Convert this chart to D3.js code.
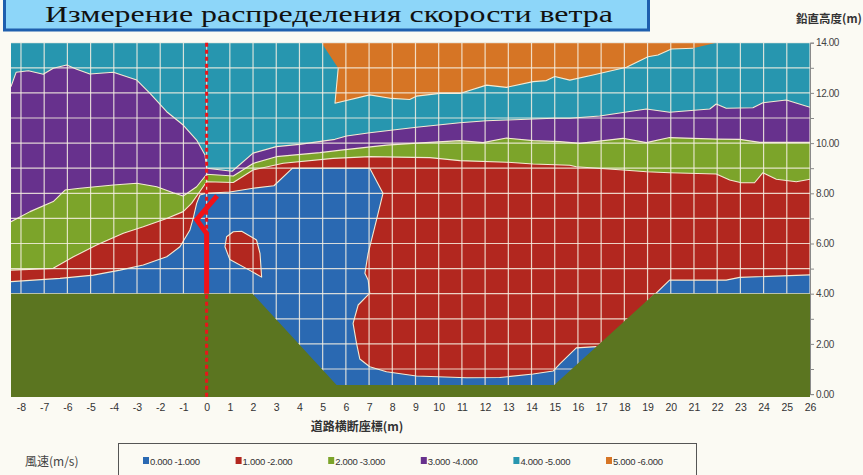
<!DOCTYPE html>
<html><head><meta charset="utf-8">
<script src="https://cdn.jsdelivr.net/npm/d3@7"></script>
<style>body{margin:0;background:#FBFAF3;}svg{display:block}</style>
</head><body><svg id="c" width="863" height="475"></svg>
<script>
// ---- data (x: road cross-section coordinate m, y: vertical height m) ----
const xTicks = d3.range(-8, 27);
const yTicks = d3.range(0, 15);
const speedClasses = ["0.000 -1.000","1.000 -2.000","2.000 -3.000","3.000 -4.000","4.000 -5.000","5.000 -6.000"];
const titleText = "Измерение распределения скорости ветра";

// upper boundary of the 3-4 m/s zone
const purpleTop = [[-8.43,12.25],[-8.21,12.82],[-7.68,12.88],[-7.04,12.74],[-6.61,12.98],[-6.03,13.11],[-5.6,12.94],[-5.03,12.75],[-4.02,12.82],[-3.01,12.51],[-2.44,11.98],[-1.72,11.25],[-1.01,10.72],[-0.43,10.12],[-0.07,9.53],[0,9.0],[1.1,8.88],[2.0,9.6],[3.0,9.86],[4.0,9.95],[5.53,10.15],[6.03,10.28],[7.03,10.41],[9.04,10.63],[10.91,10.81],[12.06,10.89],[12.92,10.92],[14.93,10.99],[15.65,10.99],[16.94,11.08],[18.95,11.36],[19.95,11.23],[21.68,11.36],[21.96,11.56],[22.39,11.39],[23.54,11.41],[23.97,11.61],[24.98,11.72],[26,11.43]];
// upper boundary of the 2-3 m/s zone
const greenTop = [[-8.43,6.87],[-7.61,7.27],[-6.61,7.67],[-6.1,8.13],[-5.46,8.2],[-4.02,8.33],[-3.01,8.4],[-2.15,8.26],[-1.44,8.02],[-1.01,7.89],[-0.43,8.26],[0,8.76],[1.15,8.69],[2.0,9.19],[3.0,9.46],[4.88,9.62],[5.88,9.73],[7.75,9.92],[8.9,9.99],[10.91,10.1],[11.91,10.02],[12.92,10.2],[14.07,10.1],[15.22,10.06],[16.08,9.99],[17.94,10.19],[18.95,10.02],[19.95,10.22],[21.96,10.16],[22.97,10.15],[23.83,10.03],[26,10.03]];
// upper boundary of the 1-2 m/s zone
const redTop = [[-8.43,4.94],[-6.61,5.01],[-5.74,5.47],[-4.74,5.94],[-3.59,6.41],[-2.73,6.67],[-1.72,7.0],[-1.01,7.27],[-0.65,7.6],[-0.15,8.26],[0,8.46],[1.15,8.43],[2.0,8.93],[3.3,9.2],[5.45,9.39],[7.03,9.46],[8.9,9.43],[9.62,9.42],[10.91,9.3],[12.92,9.24],[14.07,9.17],[15.65,9.12],[15.93,9.06],[17.94,8.93],[18.95,8.86],[19.95,8.82],[21.96,8.77],[22.54,8.53],[23.04,8.42],[23.61,8.42],[23.97,8.82],[24.55,8.56],[25.41,8.46],[26,8.56]];
// outline of the 0-1 m/s zone (left, centre and valley floor)
const blueTop = [[-8.43,4.48],[-6.32,4.61],[-4.88,4.74],[-3.73,4.94],[-2.73,5.14],[-1.72,5.47],[-1.15,5.87],[-0.72,6.54],[-0.58,7.0],[-0.43,7.6],[-0.29,7.93],[0,8.0],[1.0,8.05],[2.0,8.2],[2.9,8.3],[3.7,9.0],[7.03,9.0],[7.6,8.0],[7.32,6.94],[6.96,5.61],[6.82,4.81],[6.96,4.55],[7.03,4.02],[6.53,3.55],[6.31,2.82],[6.46,2.02],[6.6,1.4],[7.03,1.09],[7.75,0.89],[9.04,0.72],[11.2,0.65],[12.63,0.66],[14.07,0.8],[14.93,0.92],[15.22,1.2],[15.93,1.84],[16.8,1.89]];
// 0-1 m/s strip on the right shoulder
const blueRightTop = [[18.9,3.6],[19.95,4.54],[22.39,4.54],[22.97,4.65],[26,4.75]];
// isolated 1-2 m/s pocket
const redIsland = [[0.86,6.27],[1.15,6.47],[1.51,6.49],[2.15,6.14],[2.3,5.61],[2.37,4.66],[1.9,4.91],[1.0,5.36],[0.79,5.87]];
// 5-6 m/s zone
const orangeZone = [[4.95,14.0],[5.67,12.98],[5.53,11.59],[7.03,11.92],[7.97,11.78],[8.75,11.74],[9.04,11.87],[10.05,11.98],[10.91,11.98],[12.06,12.31],[12.92,12.22],[14.07,12.45],[14.64,12.49],[15.0,12.65],[15.65,12.51],[16.65,12.71],[18.09,13.02],[19.02,13.44],[19.45,13.51],[20.03,13.75],[20.96,13.78],[21.96,14.0]];
// ground / road cut profile
const groundProfile = [[-8.43,4.0],[1.98,4.0],[5.6,0.36],[14.98,0.36],[19.3,4.0],[26,4.0]];
// measured profile line at x = 0
const windProfile = [[0,4.0],[0,6.4],[-0.43,6.95],[0.45,7.9]];

// ---- styles ----
const zoneColors = ["#2A69B2","#B2271F","#7CA42A","#67318D","#2796AF","#D67525"];
const groundColor = "#5B7520";
const edgeColor = "#F3EAD2";

const svg = d3.select("#c");
const x = d3.scaleLinear().domain([-8.43, 26]).range([11, 810]);
const y = d3.scaleLinear().domain([0, 14]).range([394.1, 42.7]);
const yBot = -0.12;

svg.append("rect").attr("width",863).attr("height",475).attr("fill","#FBFAF3");

const defs = svg.append("defs");
defs.append("clipPath").attr("id","plotClip").append("rect")
  .attr("x", x(-8.43)).attr("y", y(14)).attr("width", x(26)-x(-8.43)).attr("height", y(yBot)-y(14));

const line = d3.line().x(d=>x(d[0])).y(d=>y(d[1]));
const g = svg.append("g").attr("clip-path","url(#plotClip)");

// background zone 4-5
g.append("rect").attr("x", x(-8.43)).attr("y", y(14)).attr("width", x(26)-x(-8.43)).attr("height", y(yBot)-y(14)).attr("fill", zoneColors[4]);

function closedDown(pts){ return [...pts, [pts[pts.length-1][0], yBot], [pts[0][0], yBot]]; }
function fillPoly(pts, color){ g.append("path").attr("d", line(pts)+"Z").attr("fill", color); }
function edge(pts, closed){ g.append("path").attr("d", line(pts)+(closed?"Z":"")).attr("fill","none").attr("stroke", edgeColor).attr("stroke-width",1.1).attr("stroke-linejoin","round"); }

fillPoly(orangeZone, zoneColors[5]); edge(orangeZone.slice(1, -1), false);
fillPoly(closedDown(purpleTop), zoneColors[3]); edge(purpleTop);
fillPoly(closedDown(greenTop), zoneColors[2]); edge(greenTop);
fillPoly(closedDown(redTop), zoneColors[1]); edge(redTop);
fillPoly(closedDown(blueTop), zoneColors[0]); edge(blueTop);
fillPoly(closedDown(blueRightTop), zoneColors[0]); edge(blueRightTop);
fillPoly(redIsland, zoneColors[1]); edge(redIsland, true);

// grid
const grid = g.append("g").attr("stroke","#F6F0E2").attr("stroke-opacity",0.85).attr("stroke-width",1.2);
xTicks.forEach(t => grid.append("line").attr("x1",x(t)).attr("x2",x(t)).attr("y1",y(14)).attr("y2",y(yBot)));
yTicks.forEach(t => grid.append("line").attr("x1",x(-8.43)).attr("x2",x(26)).attr("y1",y(t)).attr("y2",y(t)));

// ground
fillPoly(closedDown(groundProfile), groundColor);

// right axis
const ax = svg.append("g").attr("transform",`translate(${x(26)},0)`)
  .call(d3.axisRight(y).tickValues(yTicks).tickSize(4).tickPadding(2).tickFormat(d => d%2===0 ? d.toFixed(2) : ""));
ax.select(".domain").attr("stroke","#8a8a8a");
ax.selectAll(".tick line").attr("stroke","#8a8a8a");
ax.selectAll("text").attr("font-family","'Liberation Sans',Arial,sans-serif").attr("font-size",10).attr("fill","#444").attr("letter-spacing",-0.4);

// bottom labels
const bx = svg.append("g").attr("transform",`translate(0,401)`)
  .call(d3.axisBottom(x).tickValues(xTicks).tickSize(0).tickPadding(3).tickFormat(d => String(d)));
bx.select(".domain").remove();
bx.selectAll("text").attr("font-family","'Liberation Sans',Arial,sans-serif").attr("font-size",10.5).attr("fill","#333");

// vertical dotted centre line and measured profile
svg.append("line").attr("x1",x(0)).attr("x2",x(0)).attr("y1",y(14)).attr("y2",y(-0.2))
  .attr("stroke","#E8151B").attr("stroke-width",3).attr("stroke-dasharray","4,3");
svg.append("path").attr("d", line(windProfile)).attr("fill","none").attr("stroke","#F01218").attr("stroke-width",5).attr("stroke-linejoin","miter");

// titles
svg.append("text").attr("x",357).attr("y",431).attr("text-anchor","middle")
  .attr("font-family","'Noto Sans CJK JP',sans-serif").attr("font-size",12).attr("font-weight",600).attr("fill","#333").text("道路横断座標(m)");
svg.append("text").attr("x",829).attr("y",23).attr("text-anchor","middle")
  .attr("font-family","'Noto Sans CJK JP',sans-serif").attr("font-size",11.5).attr("font-weight",600).attr("fill","#333").text("鉛直高度(m)");

// legend
svg.append("text").attr("x",25).attr("y",466)
  .attr("font-family","'Noto Sans CJK JP',sans-serif").attr("font-size",12).attr("fill","#444").text("風速(m/s)");
svg.append("rect").attr("x",118.5).attr("y",443.5).attr("width",578).attr("height",40).attr("fill","none").attr("stroke","#555");
const lg = svg.append("g");
speedClasses.forEach((s,i) => {
  const lx = 143 + i*92.6;
  lg.append("rect").attr("x",lx).attr("y",457).attr("width",6).attr("height",7).attr("fill",zoneColors[i]);
  lg.append("text").attr("x",lx+7).attr("y",464.5).attr("font-family","'Liberation Sans',Arial,sans-serif").attr("font-size",9.5).attr("fill","#333").attr("letter-spacing",-0.3).text(s);
});

// title box
svg.append("rect").attr("x",4.5).attr("y",-10).attr("width",644).attr("height",40).attr("fill","#8DD6F9").attr("stroke","#1E5FAE").attr("stroke-width",3);
svg.append("text").attr("x",329).attr("y",22).attr("text-anchor","middle")
  .attr("font-family","'Liberation Serif','Times New Roman',serif").attr("font-size",23).attr("fill","#111")
  .attr("textLength",568).attr("lengthAdjust","spacingAndGlyphs").text(titleText);
</script></body></html>
